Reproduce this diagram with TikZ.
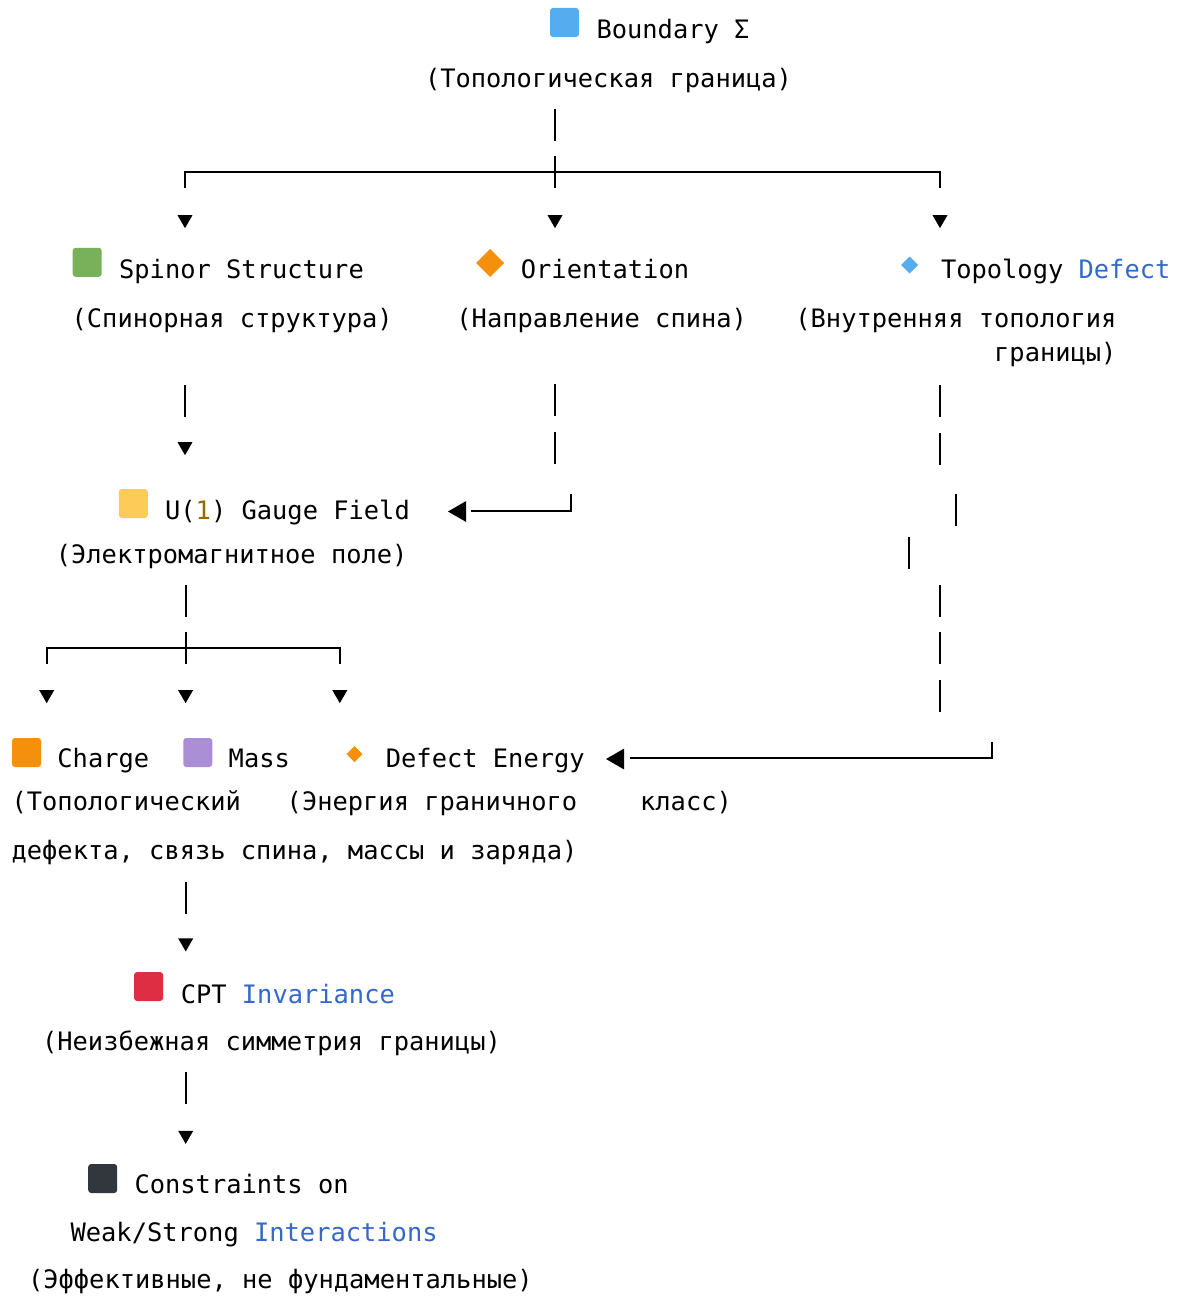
\documentclass[tikz,border=0pt]{standalone}
\usepackage{fontspec}
\usetikzlibrary{shapes.geometric}
\newfontfamily\asciifont{DejaVu Sans Mono}
\definecolor{kwblue}{HTML}{3568C8}
\definecolor{numbrown}{HTML}{986801}
\definecolor{sqblue}{HTML}{55ACEE}
\definecolor{sqgreen}{HTML}{78B159}
\definecolor{sqorange}{HTML}{F4900C}
\definecolor{sqyellow}{HTML}{FDCB58}
\definecolor{sqpurple}{HTML}{AA8ED6}
\definecolor{sqred}{HTML}{DD2E44}
\definecolor{sqblack}{HTML}{31373D}

\begin{document}
\begin{tikzpicture}[x=1pt, y=-1pt, line width=1.8pt]
	\tikzstyle{every node}=[font=\asciifont\fontsize{25.4}{30}\selectfont, inner sep=0, outer sep=0]
	\tikzstyle{txt}=[anchor=base]
	\tikzstyle{icon}=[minimum size=29pt, rounded corners=3pt]
	\tikzstyle{gem}=[diamond, minimum size=28pt]
	\tikzstyle{chip}=[diamond, minimum size=17pt]
	\tikzstyle{tipdown}=[regular polygon, regular polygon sides=3, shape border rotate=180, fill, minimum size=17.3pt]
	\tikzstyle{tipleft}=[regular polygon, regular polygon sides=3, shape border rotate=90, fill, minimum size=24pt]

	\useasboundingbox (0,0) rectangle (1182,1297);

	%icons
	\node[icon, fill=sqblue] (bnd-ic) at (564.5,22.5) {};
	\node[icon, fill=sqgreen] (spin-ic) at (87.2,262.3) {};
	\node[gem, fill=sqorange] (orient-ic) at (490,263) {};
	\node[chip, fill=sqblue] (topo-ic) at (909.5,265) {};
	\node[icon, fill=sqyellow] (gauge-ic) at (133.3,503.5) {};
	\node[icon, fill=sqorange] (charge-ic) at (26.5,752.5) {};
	\node[icon, fill=sqpurple] (mass-ic) at (197.8,752.5) {};
	\node[chip, fill=sqorange, minimum size=16pt] (energy-ic) at (354.5,754) {};
	\node[icon, fill=sqred] (cpt-ic) at (148.6,986.5) {};
	\node[icon, fill=sqblack] (weak-ic) at (102.7,1178.5) {};

	%labels
	\node[txt] (bnd) at (673,39) {Boundary Σ};
	\node[txt] (bnd-ru) at (608.5,88) {(Топологическая граница)};
	\node[txt] (spin) at (241.5,278) {Spinor Structure};
	\node[txt] (orient) at (605,278) {Orientation};
	\node[txt] (topo) at (1055.7,278) {Topology \textcolor{kwblue}{Defect}};
	\node[txt] (spin-ru) at (232.2,327) {(Спинорная структура)};
	\node[txt] (orient-ru) at (601.7,327) {(Направление спина)};
	\node[anchor=base east] (topo-ru) at (1116.5,327) {(Внутренняя топология};
	\node[anchor=base east] (topo-ru2) at (1116.5,361.5) {границы)};
	\node[txt] (gauge) at (287.5,519.3) {U(\textcolor{numbrown}{1}) Gauge Field};
	\node[txt] (gauge-ru) at (231.7,563) {(Электромагнитное поле)};
	\node[txt] (charge) at (103.3,767) {Charge};
	\node[txt] (mass) at (259.3,767) {Mass};
	\node[txt] (energy) at (485.3,767) {Defect Energy};
	\node[anchor=base west] (charge-ru) at (11.6,810) {(Топологический};
	\node[txt] (energy-ru) at (432,810) {(Энергия граничного};
	\node[txt] (energy-ru2) at (686,810) {класс)};
	\node[txt] (charge-ru2) at (294.5,859) {дефекта, связь спина, массы и заряда)};
	\node[txt] (cpt) at (287.8,1003.3) {CPT \textcolor{kwblue}{Invariance}};
	\node[txt] (cpt-ru) at (271.5,1050) {(Неизбежная симметрия границы)};
	\node[txt] (weak) at (241.6,1193.3) {Constraints on};
	\node[txt] (weak2) at (254.1,1241.7) {Weak/Strong \textcolor{kwblue}{Interactions}};
	\node[txt] (weak-ru) at (280.4,1288.3) {(Эффективные, не фундаментальные)};

	%arrow heads
	\node[tipdown] (t-spin) at (185,219.5) {};
	\node[tipdown] (t-orient) at (555,219.5) {};
	\node[tipdown] (t-topo) at (940,219.5) {};
	\node[tipdown] (t-gauge) at (185,446.5) {};
	\node[tipdown] (t-charge) at (46.7,694.5) {};
	\node[tipdown] (t-mass) at (185.6,694.5) {};
	\node[tipdown] (t-energy) at (339.8,694.5) {};
	\node[tipdown] (t-cpt) at (185.7,942.8) {};
	\node[tipdown] (t-weak) at (185.7,1135.2) {};
	\node[tipleft] (t-or2gauge) at (460,511.5) {};
	\node[tipleft] (t-topo2energy) at (618,759) {};

	%vertical bars
	\foreach \x/\y in {555/109, 555/156, 185/385, 555/384, 555/432,
		940/385, 940/433, 956/494, 909/537, 940/585, 940/632, 940/680,
		185.6/585, 185.6/632, 185.7/881.7, 185.7/1071.7}
		\draw (\x,\y) -- ++(0,32);

	%branches
	\draw (t-spin |- 0,188) -- (t-spin |- 0,172) -- (t-topo |- 0,172) -- (t-topo |- 0,188);
	\draw (t-charge |- 0,664) -- (t-charge |- 0,647.7) -- (t-energy |- 0,647.7) -- (t-energy |- 0,664);
	\draw (t-or2gauge.east |- 0,511) ++(5,0) -- (571,511) -- (571,494);
	\draw (t-topo2energy.east |- 0,758) ++(6,0) -- (992,758) -- (992,742);
\end{tikzpicture}
\end{document}
